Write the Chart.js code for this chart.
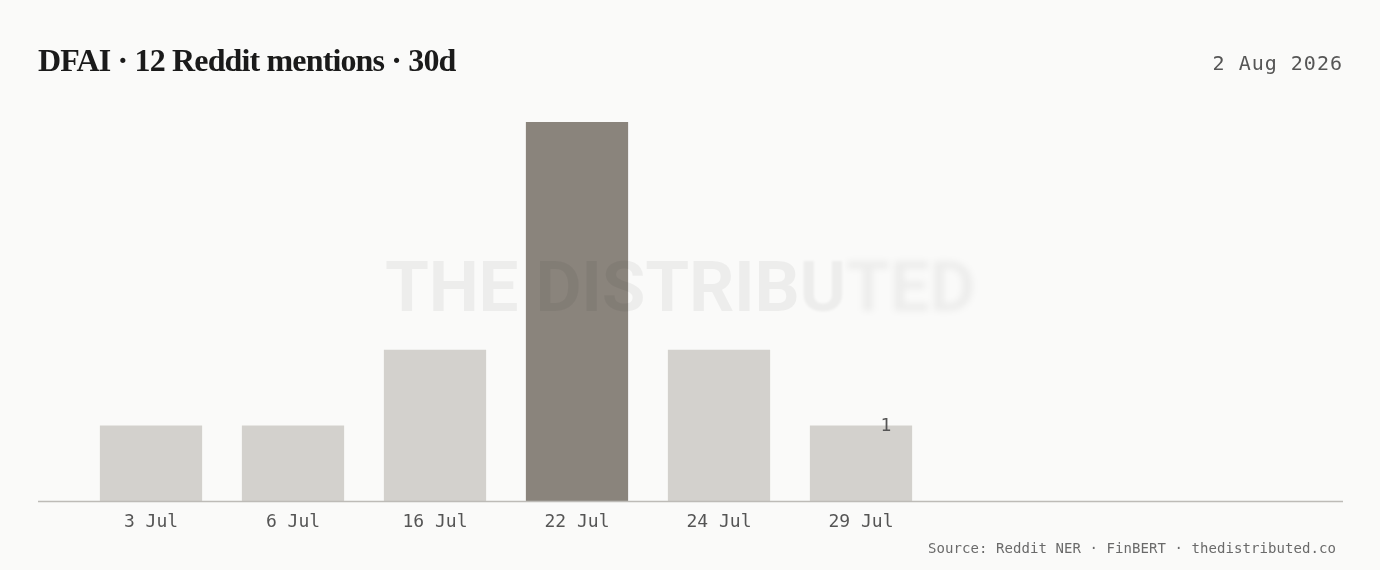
<!DOCTYPE html>
<html>
<head>
<meta charset="utf-8">
<script src="https://cdn.jsdelivr.net/npm/chart.js@4.4.1/dist/chart.umd.min.js"></script>
<style>
  html, body { margin: 0; padding: 0; background: #fafaf9; }
  #wrap { position: relative; width: 1380px; height: 570px; overflow: hidden; }
  #barChart { position: absolute; left: 0; top: 0; }
  .title { position: absolute; left: 38px; top: 44px; font: bold 32px "Liberation Serif", serif; line-height: 32px; letter-spacing: -0.85px; color: #1a1a1a; white-space: nowrap; }
  .date { position: absolute; right: 37px; top: 53px; font: 20px "DejaVu Sans Mono", monospace; line-height: 20px; letter-spacing: 1px; color: #555; }
  .source { position: absolute; right: 44px; top: 541px; font: 14px "DejaVu Sans Mono", monospace; line-height: 14px; letter-spacing: 0.07px; color: #6a6a6a; white-space: nowrap; }
  .mark { position: absolute; left: 385px; top: 251px; font: bold 71px Roboto, sans-serif; line-height: 71px; letter-spacing: -0.3px; color: rgba(0, 0, 0, 0.05); white-space: nowrap; pointer-events: none; }
  .mark .b1 { filter: blur(1px); }
  .mark .b2 { filter: blur(3px); }
</style>
</head>
<body>
<div id="wrap">
  <canvas id="barChart" width="1380" height="570"></canvas>
  <div class="title">DFAI · 12 Reddit mentions · 30d</div>
  <div class="date">2 Aug 2026</div>
  <div class="mark">THE DISTRIB<span class="b1">U</span><span class="b2">TED</span></div>
  <div class="source">Source: Reddit NER · FinBERT · thedistributed.co</div>
</div>
<script>
const days = ['3 Jul', '6 Jul', '16 Jul', '22 Jul', '24 Jul', '29 Jul']
const mentions = [1, 1, 2, 5, 2, 1]
const peak = Math.max(...mentions)

const baseline = {
    id: 'baseline',
    afterDatasetsDraw(chart) {
        const c = chart.ctx
        const y = chart.chartArea.bottom
        c.save()
        c.strokeStyle = '#bdbbb7'
        c.lineWidth = 1.5
        c.beginPath()
        c.moveTo(38, y)
        c.lineTo(1343, y)
        c.stroke()

        // value of the latest day
        const meta = chart.getDatasetMeta(0)
        const last = meta.data[meta.data.length - 1]
        c.fillStyle = '#555'
        c.font = '18px "DejaVu Sans Mono", monospace'
        c.textAlign = 'center'
        c.textBaseline = 'middle'
        c.fillText(mentions[mentions.length - 1], last.x + 25, last.y + 1)
        c.restore()
    }
}

const ctx = document.getElementById('barChart')
const barChart = new Chart(ctx, {
    type: 'bar',
    data: {
        labels: days,
        datasets: [{
            data: mentions,
            backgroundColor: mentions.map(v => v === peak ? '#8a847c' : '#d3d1cd'),
            borderWidth: 0,
            categoryPercentage: 1,
            barPercentage: 0.72,
        }]
    },
    options: {
        responsive: false,
        animation: false,
        layout: {
            padding: { left: 80, right: 448, top: 122, bottom: 27 }
        },
        plugins: {
            legend: { display: false },
            tooltip: { enabled: false }
        },
        scales: {
            x: {
                grid: { display: false, drawTicks: false },
                border: { display: false },
                ticks: {
                    padding: 10,
                    color: '#555',
                    font: { family: '"DejaVu Sans Mono", monospace', size: 18 }
                }
            },
            y: {
                display: false,
                min: 0,
                max: 5
            }
        }
    },
    plugins: [baseline]
});
</script>
</body>
</html>
